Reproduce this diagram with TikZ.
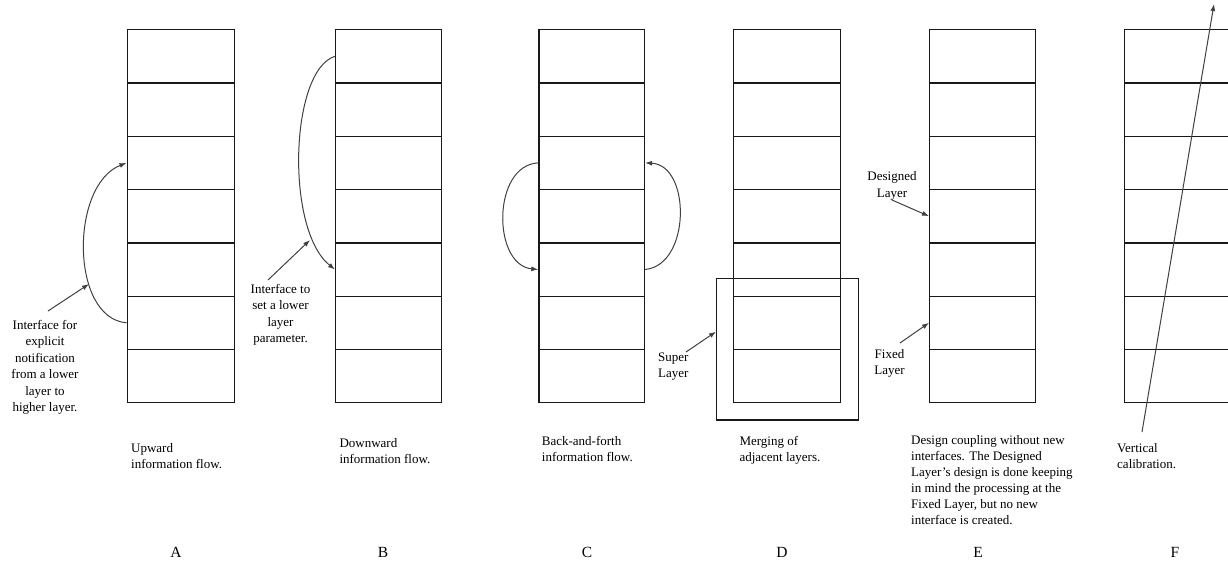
\documentclass[tikz,border=0pt]{standalone}
\usepackage{fontspec}
\setmainfont{Liberation Serif}
\usetikzlibrary{arrows.meta}
\begin{document}
\begin{tikzpicture}[x=1pt,y=-1pt,
 layer/.style={draw=black!90, line width=1.3pt, minimum height=53.3pt, inner sep=0pt, anchor=north west},
 flow/.style={line width=1pt, draw=black!75, -{Latex[length=7pt,width=5pt]}},
 lbl/.style={font=\fontsize{13}{16.5}\selectfont, inner sep=0pt, align=center, anchor=north},
 captxt/.style={font=\fontsize{13}{16}\selectfont, inner sep=0pt, align=left, anchor=north west},
 letter/.style={font=\fontsize{15.5}{18}\selectfont, inner sep=0pt, anchor=base}]
\useasboundingbox (0,0) rectangle (1228,560);
\foreach \s/\x/\w in {A/126.5/107, B/335/106, C/538.3/105.5, D/732.5/107.5, E/929/106, F/1123.5/106}{
  \foreach \i in {1,...,7}{
    \node[layer, minimum width=\w pt] (\s\i) at (\x, {29+(\i-1)*53.3}) {};
  }
}
% super layer box
\node[draw=black!90, line width=1.3pt, minimum width=141.7pt, minimum height=141.6pt, inner sep=0pt, anchor=north west] (super) at (716,277.7) {};

% A
\draw[flow] (A6.west) .. controls (70,318) and (70,185) .. (A3.west);
\coordinate (atail) at (48,311);
\coordinate (ahead) at (89,284);
\draw[flow] (atail) -- (ahead);
\node[lbl] (la) at (45,320) {Interface for\\explicit\\notification\\from a lower\\layer to\\higher layer.};
% B
\draw[flow] (B1.west) .. controls (290,70) and (285,230) .. (B5.west);
\coordinate (btail) at (268,280);
\coordinate (bhead) at (310,240);
\draw[flow] (btail) -- (bhead);
\node[lbl] (lb) at (280.5,284) {Interface to\\set a lower\\layer\\parameter.};
% C
\draw[flow] (C3.west) .. controls (492,165) and (492,265) .. (C5.west);
\draw[flow] (C5.east) .. controls (691,265) and (691,165) .. (C3.east);
% D
\coordinate (dtail) at (686,352);
\draw[flow] (dtail) -- ([yshift=17.5pt]super.west);
\node[captxt] (ld) at (658,352.7) {Super\\Layer};
% E
\node[lbl] (le1) at (892,171.7) {Designed\\Layer};
\coordinate (etail) at (892,200);
\draw[flow] (etail) -- (E4.west);
\node[lbl] (le2) at (889.5,349) {Fixed\\Layer};
\coordinate (ftail) at (900,343);
\draw[flow] (ftail) -- (E6.west);
% F
\coordinate (vtail) at (1142,432);
\coordinate (vhead) at (1214,4);
\draw[flow] (vtail) -- (vhead);

% captions
\node[captxt] (ca) at (131,443) {Upward\\information flow.};
\node[captxt] (cb) at (339.3,438) {Downward\\information flow.};
\node[captxt] (cc) at (541.7,436) {Back-and-forth\\information flow.};
\node[captxt] (cd) at (739.3,436) {Merging of\\adjacent layers.};
\node[captxt] (ce) at (911,435) {Design coupling without new\\interfaces. The Designed\\Layer’s design is done keeping\\in mind the processing at the\\Fixed Layer, but no new\\interface is created.};
\node[captxt] (cf) at (1117,443) {Vertical\\calibration.};

% letters
\node[letter] (lA) at (176,557.5) {A};
\node[letter] (lB) at (383,557.5) {B};
\node[letter] (lC) at (587,557.5) {C};
\node[letter] (lD) at (782,557.5) {D};
\node[letter] (lE) at (978,557.5) {E};
\node[letter] (lF) at (1175,557.5) {F};
\end{tikzpicture}
\end{document}
